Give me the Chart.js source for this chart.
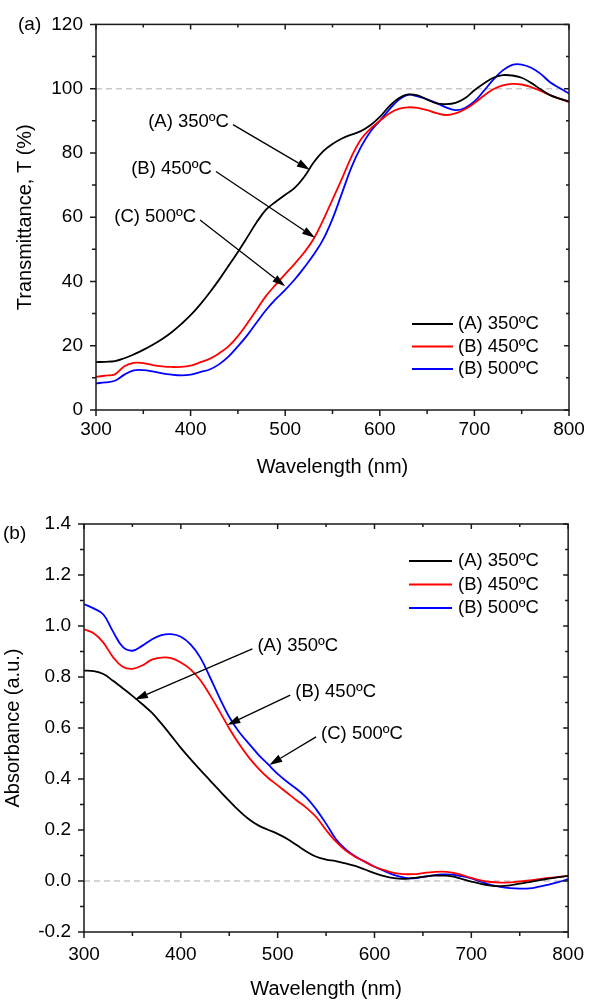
<!DOCTYPE html>
<html lang="en">
<head>
  <meta charset="UTF-8">
  <title>Transmittance and Absorbance Spectra</title>
  <script src="https://cdn.jsdelivr.net/npm/chart.js"></script>
  <style>
    body {
      margin: 0;
      background: #ffffff;
      width: 595px;
      height: 1001px;
      position: relative;
      overflow: hidden;
    }
    canvas { position: absolute; left: 0; }
    #transChart { top: 0; }
    #absChart { top: 490px; }
  </style>
</head>
<body>

  <canvas id="transChart" width="595" height="490"></canvas>
  <canvas id="absChart" width="595" height="511"></canvas>

  <script>
    // Wavelength grid (nm)
    const wavelengths = [
      300, 310, 320, 330, 340, 350, 360, 370, 380, 390,
      400, 410, 420, 430, 440, 450, 460, 470, 480, 490,
      500, 510, 520, 530, 540, 550, 560, 570, 580, 590,
      600, 610, 620, 630, 640, 650, 660, 670, 680, 690,
      700, 710, 720, 730, 740, 750, 760, 770, 780, 790, 800
    ];

    const seriesLabels = ['(A) 350ºC', '(B) 450ºC', '(B) 500ºC'];
    const seriesColors = ['#000000', '#ff0000', '#0000ff'];

    // (a) Transmittance, T (%)
    const trans350 = [
      14.9, 15.0, 15.2, 16.1, 17.3, 18.7, 20.3, 22.1, 24.2, 26.7,
      29.5, 32.8, 36.5, 40.5, 44.8, 49.2, 53.8, 58.5, 62.4, 64.8,
      67.0, 69.1, 72.5, 77.0, 80.5, 82.8, 84.5, 85.7, 86.8, 88.6,
      91.2, 94.5, 97.0, 98.2, 97.9, 96.6, 95.4, 95.2, 95.6, 97.0,
      99.5, 101.6, 103.4, 104.2, 104.1, 103.4, 101.8, 99.8, 98.0, 96.9, 96.0
    ];
    const trans450 = [
      10.3, 10.7, 11.1, 13.6, 14.7, 14.6, 14.0, 13.6, 13.4, 13.4,
      13.8, 14.8, 15.9, 17.6, 19.8, 23.0, 27.0, 31.3, 35.6, 39.0,
      42.3, 45.5, 49.0, 53.2, 59.0, 65.5, 72.0, 78.8, 84.2, 87.5,
      90.0, 92.3, 93.7, 94.2, 94.0, 93.3, 92.4, 91.8, 92.3, 93.6,
      95.5, 97.8, 99.8, 101.0, 101.5, 101.3, 100.5, 99.3, 98.0, 96.9, 95.8
    ];
    const trans500 = [
      8.3, 8.6, 9.1, 11.0, 12.3, 12.4, 12.0, 11.4, 11.0, 10.8,
      11.0, 11.8, 12.6, 14.2, 16.6, 19.8, 23.3, 27.3, 31.2, 34.5,
      37.4, 40.6, 44.3, 48.3, 53.0, 59.5, 67.5, 75.5, 81.8, 86.6,
      90.0, 93.5, 96.5, 98.1, 97.6, 96.7, 95.5, 94.2, 93.3, 94.0,
      96.0, 99.3, 102.8, 105.7, 107.4, 107.5, 106.5, 104.6, 102.0, 100.2, 98.5
    ];

    // (b) Absorbance (a.u.)
    const abs350 = [
      0.825, 0.823, 0.812, 0.785, 0.756, 0.726, 0.694, 0.660, 0.617, 0.570,
      0.522, 0.478, 0.436, 0.395, 0.354, 0.314, 0.276, 0.243, 0.218, 0.201,
      0.185, 0.165, 0.140, 0.115, 0.095, 0.084, 0.078, 0.069, 0.059, 0.045,
      0.031, 0.019, 0.011, 0.008, 0.012, 0.016, 0.021, 0.021, 0.018, 0.008,
      -0.002, -0.011, -0.018, -0.020, -0.017, -0.010, -0.004, 0.003, 0.009, 0.015, 0.020
    ];
    const abs450 = [
      0.987, 0.972, 0.935, 0.878, 0.840, 0.832, 0.845, 0.868, 0.876, 0.874,
      0.857, 0.830, 0.788, 0.730, 0.665, 0.598, 0.538, 0.486, 0.442, 0.405,
      0.375, 0.345, 0.315, 0.286, 0.250, 0.200, 0.155, 0.120, 0.095, 0.076,
      0.056, 0.043, 0.032, 0.027, 0.027, 0.031, 0.035, 0.037, 0.033, 0.024,
      0.012, 0.002, -0.004, -0.006, -0.005, -0.002, 0.002, 0.007, 0.012, 0.016, 0.020
    ];
    const abs500 = [
      1.086, 1.069, 1.045, 0.978, 0.918, 0.903, 0.922, 0.947, 0.964, 0.968,
      0.958, 0.928, 0.877, 0.800, 0.718, 0.643, 0.585, 0.540, 0.496, 0.458,
      0.420, 0.388, 0.360, 0.326, 0.280, 0.225, 0.165, 0.125, 0.097, 0.076,
      0.056, 0.040, 0.024, 0.014, 0.010, 0.016, 0.022, 0.026, 0.025, 0.019,
      0.010, -0.003, -0.015, -0.023, -0.028, -0.030, -0.029, -0.022, -0.014, -0.004, 0.007
    ];

    // arrow annotations: [label, tail x, tail y, head x, head y] in data units
    const transNotes = [
      ['(A) 350ºC', 444.8, 88.8, 526.0, 74.8],
      ['(B) 450ºC', 426.8, 74.2, 531.5, 53.6],
      ['(C) 500ºC', 410.0, 59.1, 500.0, 38.5]
    ];
    const absNotes = [
      ['(A) 350ºC', 473.9, 0.910, 352.5, 0.712],
      ['(B) 450ºC', 513.0, 0.729, 448.0, 0.612],
      ['(C) 500ºC', 539.7, 0.565, 491.4, 0.455]
    ];

    const FONT = "'Liberation Sans', Arial, sans-serif";

    function makeDatasets(values) {
      return values.map((vals, i) => ({
        label: seriesLabels[i],
        data: wavelengths.map((w, j) => ({ x: w, y: vals[j] })),
        borderColor: seriesColors[i],
        borderWidth: 1.8,
        pointRadius: 0,
        fill: false,
        tension: 0.4
      }));
    }

    // frame, ticks, reference line, legend, arrows, panel letter
    const spectraDecor = {
      id: 'spectraDecor',
      beforeDatasetsDraw(chart, args, opts) {
        const { ctx, chartArea: a } = chart;
        const py = chart.scales.y.getPixelForValue(opts.refLine);
        ctx.save();
        ctx.strokeStyle = '#c8c8c8';
        ctx.lineWidth = 1.5;
        ctx.setLineDash([6, 4]);
        ctx.beginPath();
        ctx.moveTo(a.left, py);
        ctx.lineTo(a.right, py);
        ctx.stroke();
        ctx.restore();
      },
      afterDraw(chart, args, opts) {
        const { ctx, chartArea: a } = chart;
        const xs = chart.scales.x, ys = chart.scales.y;
        const mid = arr => arr.slice(1).map((v, i) => (v + arr[i]) / 2);
        const xt = xs.ticks.map(t => t.value);
        const yt = ys.ticks.map(t => t.value);

        ctx.save();
        ctx.strokeStyle = '#1a1a1a';
        ctx.lineWidth = 1.5;
        ctx.strokeRect(a.left, a.top, a.right - a.left, a.bottom - a.top);

        ctx.beginPath();
        const xTick = (v, len) => {
          const p = xs.getPixelForValue(v);
          ctx.moveTo(p, a.bottom); ctx.lineTo(p, a.bottom + len);
          ctx.moveTo(p, a.top); ctx.lineTo(p, a.top + len - 1);
        };
        const yTick = (v, len) => {
          const p = ys.getPixelForValue(v);
          ctx.moveTo(a.left, p); ctx.lineTo(a.left - len, p);
          ctx.moveTo(a.right, p); ctx.lineTo(a.right - len + 1, p);
        };
        xt.forEach(v => xTick(v, 6));
        mid(xt).forEach(v => xTick(v, 4));
        yt.forEach(v => yTick(v, 6));
        mid(yt).forEach(v => yTick(v, 4));
        ctx.stroke();

        // arrows
        ctx.fillStyle = '#000';
        ctx.strokeStyle = '#000';
        ctx.lineWidth = 1.3;
        ctx.font = '18.5px ' + FONT;
        ctx.textBaseline = 'middle';
        opts.notes.forEach(([label, x0, y0, x1, y1]) => {
          const sx = xs.getPixelForValue(x0), sy = ys.getPixelForValue(y0);
          const ex = xs.getPixelForValue(x1), ey = ys.getPixelForValue(y1);
          const ang = Math.atan2(ey - sy, ex - sx);
          const hl = 13, hw = 4;
          const bx = ex - hl * Math.cos(ang), by = ey - hl * Math.sin(ang);
          ctx.beginPath();
          ctx.moveTo(sx, sy);
          ctx.lineTo(bx, by);
          ctx.stroke();
          ctx.beginPath();
          ctx.moveTo(ex, ey);
          ctx.lineTo(bx + hw * Math.sin(ang), by - hw * Math.cos(ang));
          ctx.lineTo(bx - hw * Math.sin(ang), by + hw * Math.cos(ang));
          ctx.closePath();
          ctx.fill();
          if (opts.noteAlign === 'right') {
            ctx.textAlign = 'right';
            ctx.fillText(label, sx - 4, sy - 3);
          } else {
            ctx.textAlign = 'left';
            ctx.fillText(label, sx + 5, sy - 3);
          }
        });

        // legend
        const lg = opts.legend;
        ctx.textAlign = 'left';
        chart.data.datasets.forEach((ds, i) => {
          const y = lg.y + i * lg.dy;
          ctx.strokeStyle = ds.borderColor;
          ctx.lineWidth = 2;
          ctx.beginPath();
          ctx.moveTo(lg.x1, y);
          ctx.lineTo(lg.x2, y);
          ctx.stroke();
          ctx.fillStyle = '#000';
          ctx.fillText(ds.label, lg.textX, y);
        });

        // panel letter
        ctx.textAlign = 'left';
        ctx.font = '19px ' + FONT;
        ctx.fillText(opts.panel.text, opts.panel.x, opts.panel.y);
        ctx.restore();
      }
    };

    function makeChart(id, values, cfg) {
      return new Chart(document.getElementById(id), {
        type: 'line',
        data: { datasets: makeDatasets(values) },
        plugins: [spectraDecor],
        options: {
          responsive: false,
          animation: false,
          events: [],
          layout: { padding: { left: 0, right: cfg.padRight, top: cfg.padTop, bottom: 0 } },
          plugins: {
            legend: { display: false },
            tooltip: { enabled: false },
            spectraDecor: cfg.decor
          },
          scales: {
            x: {
              type: 'linear',
              min: 300,
              max: 800,
              afterFit: s => { s.height = cfg.xHeight; },
              grid: { display: false, drawTicks: false },
              border: { display: false },
              ticks: {
                stepSize: 100,
                padding: cfg.xTickPad,
                color: '#000',
                font: { family: FONT, size: 19 }
              },
              title: {
                display: true,
                text: 'Wavelength (nm)',
                color: '#000',
                font: { family: FONT, size: 20 },
                padding: { top: 0, bottom: cfg.xTitlePad }
              }
            },
            y: {
              min: cfg.yMin,
              max: cfg.yMax,
              afterFit: s => { s.width = cfg.yWidth; },
              grid: { display: false, drawTicks: false },
              border: { display: false },
              ticks: {
                stepSize: cfg.yStep,
                padding: 13,
                color: '#000',
                font: { family: FONT, size: 19 },
                callback: cfg.yFormat
              },
              title: {
                display: true,
                text: cfg.yTitle,
                color: '#000',
                font: { family: FONT, size: 20 },
                padding: { top: cfg.yTitlePad, bottom: 0 }
              }
            }
          }
        }
      });
    }

    makeChart('transChart', [trans350, trans450, trans500], {
      padTop: 14, padRight: 26, xHeight: 80, yWidth: 96,
      xTickPad: 8, xTitlePad: 11, yTitlePad: 13.5,
      yMin: 0, yMax: 120, yStep: 20,
      yFormat: v => v,
      yTitle: 'Transmittance, T (%)',
      decor: {
        refLine: 100,
        notes: transNotes,
        noteAlign: 'right',
        legend: { x1: 412, x2: 453, textX: 458, y: 324, dy: 22.5 },
        panel: { text: '(a)', x: 18, y: 25 }
      }
    });

    makeChart('absChart', [abs350, abs450, abs500], {
      padTop: 34, padRight: 25, xHeight: 69, yWidth: 84,
      xTickPad: 11, xTitlePad: 0, yTitlePad: 1.5,
      yMin: -0.2, yMax: 1.4, yStep: 0.2,
      yFormat: v => (Math.abs(v) < 1e-9 ? 0 : Number(v)).toFixed(1),
      yTitle: 'Absorbance (a.u.)',
      decor: {
        refLine: 0,
        notes: absNotes,
        noteAlign: 'left',
        legend: { x1: 409, x2: 452, textX: 458, y: 71, dy: 23.5 },
        panel: { text: '(b)', x: 3, y: 44 }
      }
    });
  </script>

</body>
</html>
